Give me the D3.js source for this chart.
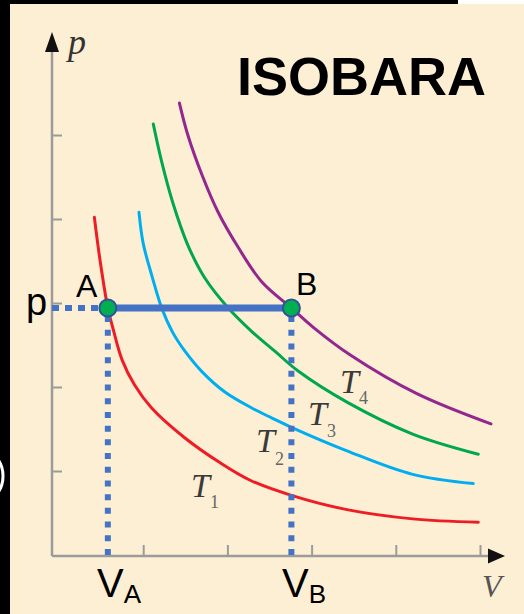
<!DOCTYPE html>
<html>
<head>
<meta charset="utf-8">
<script src="https://cdn.jsdelivr.net/npm/d3@7"></script>
<style>
  html, body { margin: 0; padding: 0; background: #fff; }
  svg { display: block; }
</style>
</head>
<body>
<div id="chart"></div>
<script>
// isotherms: volume (V) and pressure (p) in tick units
const t1V = [0.42, 0.49, 0.58, 0.64, 0.75, 0.90, 1.10, 1.50, 1.91, 2.27, 2.76, 3.42, 4.20, 4.98];
const t1P = [4.02, 3.49, 2.94, 2.70, 2.32, 2.02, 1.75, 1.39, 1.10, 0.89, 0.71, 0.54, 0.43, 0.39];
const t2V = [0.95, 1.00, 1.11, 1.22, 1.35, 1.50, 1.70, 1.97, 2.29, 2.53, 2.76, 3.42, 4.20, 4.92];
const t2P = [4.08, 3.71, 3.30, 2.94, 2.65, 2.42, 2.18, 1.94, 1.75, 1.63, 1.52, 1.24, 0.96, 0.85];
const t3V = [1.12, 1.22, 1.35, 1.53, 1.73, 2.01, 2.29, 2.57, 2.84, 3.42, 4.20, 4.98];
const t3P = [5.13, 4.68, 4.20, 3.69, 3.30, 2.94, 2.66, 2.42, 2.19, 1.82, 1.44, 1.20];
const t4V = [1.43, 1.53, 1.70, 1.89, 2.13, 2.41, 2.76, 3.02, 3.46, 4.25, 5.13];
const t4P = [5.38, 5.00, 4.52, 4.08, 3.66, 3.25, 2.94, 2.71, 2.38, 1.92, 1.56];
const curveColors = ["#ee1c25", "#00aeef", "#00a651", "#92278f"];
const curveNames = ["1", "2", "3", "4"];

const vTicks = [1, 2, 3, 4, 5];
const pTicks = [1, 2, 3, 4, 5];

// the isobaric process A -> B
const pIso = 2.94;
const vA = 0.58;
const vB = 2.76;

const W = 524, H = 614;
const svg = d3.select("#chart").append("svg")
    .attr("width", W)
    .attr("height", H);

// background and the black frame edges of the photo
svg.append("rect").attr("width", W).attr("height", H).attr("fill", "#fdefd4");
svg.append("rect").attr("x", 0).attr("y", 0).attr("width", 458).attr("height", 4).attr("fill", "#000");
svg.append("rect").attr("x", 458).attr("y", 0).attr("width", W - 458).attr("height", 4).attr("fill", "#fff");
svg.append("rect").attr("x", 0).attr("y", 0).attr("width", 10).attr("height", H).attr("fill", "#000");
svg.append("ellipse")
    .attr("cx", -15).attr("cy", 476).attr("rx", 18).attr("ry", 24)
    .attr("fill", "none").attr("stroke", "#fff").attr("stroke-width", 3);

const x = d3.scaleLinear().domain([0, 5]).range([59, 480]);
const y = d3.scaleLinear().domain([0, 5]).range([555, 135]);
const axisX0 = 52;
const axisColor = "#9b9b9b";

// ticks (inside the plot, no labels)
svg.append("g")
    .attr("transform", `translate(0,${y(0)})`)
    .call(d3.axisBottom(x).tickValues(vTicks).tickSize(-10).tickFormat(""))
    .call(g => g.select(".domain").remove())
    .selectAll("line").attr("stroke", axisColor).attr("stroke-width", 2);

svg.append("g")
    .attr("transform", `translate(${axisX0},0)`)
    .call(d3.axisLeft(y).tickValues(pTicks).tickSize(-10).tickFormat(""))
    .call(g => g.select(".domain").remove())
    .selectAll("line").attr("stroke", axisColor).attr("stroke-width", 2);

// axis lines with arrow heads
svg.append("line")
    .attr("x1", axisX0).attr("y1", y(0) + 1)
    .attr("x2", axisX0).attr("y2", 48)
    .attr("stroke", axisColor).attr("stroke-width", 2.5);
svg.append("line")
    .attr("x1", axisX0).attr("y1", y(0) + 1)
    .attr("x2", 492).attr("y2", y(0) + 1)
    .attr("stroke", axisColor).attr("stroke-width", 2.5);
svg.append("path")
    .attr("d", `M${axisX0},32 L${axisX0 + 7},52 L${axisX0 - 7},52 Z`)
    .attr("fill", "#111");
svg.append("path")
    .attr("d", `M505,${y(0) + 1} L488,${y(0) - 6.5} L488,${y(0) + 8.5} Z`)
    .attr("fill", "#111");

// axis names
svg.append("text")
    .attr("x", 68).attr("y", 54)
    .style("font-family", "Liberation Serif, serif")
    .style("font-style", "italic")
    .style("font-size", "36px")
    .attr("fill", "#333")
    .text("p");
svg.append("text")
    .attr("x", 482).attr("y", 597)
    .style("font-family", "Liberation Serif, serif")
    .style("font-style", "italic")
    .style("font-size", "32px")
    .attr("fill", "#555")
    .text("V");

// isotherms
const curves = [
    d3.zip(t1V, t1P),
    d3.zip(t2V, t2P),
    d3.zip(t3V, t3P),
    d3.zip(t4V, t4P)
];
const line = d3.line()
    .x(d => x(d[0]))
    .y(d => y(d[1]))
    .curve(d3.curveCatmullRom.alpha(0.5));

svg.selectAll(".iso")
    .data(curves)
    .enter().append("path")
    .attr("class", "iso")
    .attr("d", line)
    .attr("fill", "none")
    .attr("stroke", (d, i) => curveColors[i])
    .attr("stroke-width", 3)
    .attr("stroke-linecap", "round");

// curve names T1..T4
const labelPos = [[191, 497, 11], [256, 452, 13], [308, 425, 12], [340, 393, 11]];
curveNames.forEach((n, i) => {
    const [lx, ly, sdy] = labelPos[i];
    const t = svg.append("text")
        .attr("x", lx).attr("y", ly)
        .style("font-family", "Liberation Serif, serif")
        .style("font-style", "italic")
        .style("font-size", "34px")
        .attr("fill", "#3a3a3a")
        .text("T");
    t.append("tspan")
        .attr("dy", sdy)
        .style("font-style", "normal")
        .style("font-size", "18px")
        .attr("fill", "#666")
        .text(n);
});

// dotted guides
const blue = "#4472c4";
svg.append("line")
    .attr("x1", axisX0).attr("y1", y(pIso))
    .attr("x2", x(vA)).attr("y2", y(pIso))
    .attr("stroke", blue).attr("stroke-width", 6)
    .attr("stroke-dasharray", "7 6");
[vA, vB].forEach(v => {
    svg.append("line")
        .attr("x1", x(v)).attr("y1", y(pIso) + 8)
        .attr("x2", x(v)).attr("y2", y(0))
        .attr("stroke", blue).attr("stroke-width", 6)
        .attr("stroke-dasharray", "6 7.7");
});

// isobaric line A-B
svg.append("line")
    .attr("x1", x(vA)).attr("y1", y(pIso))
    .attr("x2", x(vB)).attr("y2", y(pIso))
    .attr("stroke", blue).attr("stroke-width", 7);

svg.selectAll(".state")
    .data([vA, vB])
    .enter().append("circle")
    .attr("class", "state")
    .attr("cx", d => x(d))
    .attr("cy", y(pIso))
    .attr("r", 8.5)
    .attr("fill", "#00b050")
    .attr("stroke", "#2f5597")
    .attr("stroke-width", 2);

// letters
const sans = "Liberation Sans, Arial, sans-serif";
svg.append("text").attr("x", 76).attr("y", 297)
    .style("font-family", sans).style("font-size", "32px").attr("fill", "#000").text("A");
svg.append("text").attr("x", 296).attr("y", 295)
    .style("font-family", sans).style("font-size", "32px").attr("fill", "#000").text("B");
svg.append("text").attr("x", 26).attr("y", 315)
    .style("font-family", sans).style("font-size", "38px").attr("fill", "#000").text("p");

[[vA, "A", 97], [vB, "B", 282]].forEach(([v, s, lx]) => {
    const t = svg.append("text")
        .attr("x", lx).attr("y", 597)
        .style("font-family", sans).style("font-size", "40px").attr("fill", "#000")
        .text("V");
    t.append("tspan")
        .attr("dy", 6)
        .style("font-size", "26px")
        .text(s);
});

// title
svg.append("text")
    .attr("x", 237).attr("y", 95)
    .style("font-family", sans)
    .style("font-weight", "bold")
    .style("font-size", "54px")
    .attr("fill", "#000")
    .text("ISOBARA");
</script>
</body>
</html>
